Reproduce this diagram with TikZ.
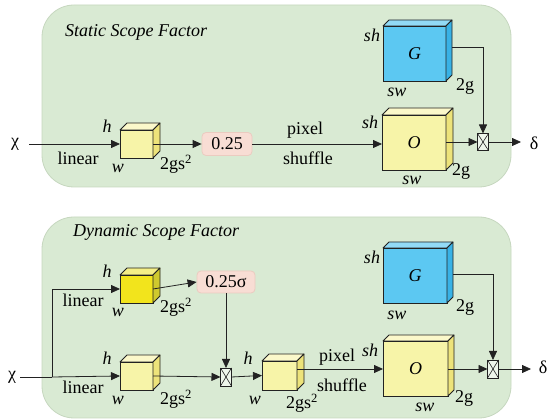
\documentclass[tikz,border=0pt]{standalone}
\usepackage{fontspec}
\setmainfont{Liberation Serif}
\newfontfamily\figfont{Liberation Serif}
\usetikzlibrary{arrows.meta,calc}
\definecolor{panelfill}{HTML}{D9EAD3}
\definecolor{paneldraw}{HTML}{C6D7BF}
\definecolor{lyF}{HTML}{F7F4A8}
\definecolor{lyT}{HTML}{FBF8CA}
\definecolor{lyS}{HTML}{EDE37A}
\definecolor{yyF}{HTML}{F2E41C}
\definecolor{yyT}{HTML}{F4EE86}
\definecolor{yyS}{HTML}{CFC92E}
\definecolor{bbF}{HTML}{5CC8F2}
\definecolor{bbT}{HTML}{92DAF6}
\definecolor{bbS}{HTML}{38B2E6}
\definecolor{boxF}{HTML}{F8DDD4}
\definecolor{boxD}{HTML}{EBCBC0}
\definecolor{ink}{HTML}{222222}
\tikzset{
  panel/.style={fill=panelfill,draw=paneldraw,line width=0.8pt,rounded corners=32pt},
  cubeface/.style={draw=ink,line width=0.8pt,inner sep=0pt,outer sep=0pt,font=\figfont\fontsize{18}{20}\selectfont\itshape},
  cubeedge/.style={draw=ink,line width=0.8pt,line join=round},
  conn/.style={draw=ink,line width=0.8pt},
  arr/.style={conn,-{Triangle[length=9pt,width=8pt]}},
  lab/.style={inner sep=0pt},
  ilab/.style={inner sep=0pt,font=\figfont\fontsize{18}{20}\selectfont\itshape},
  scal/.style={fill=boxF,draw=boxD,line width=0.8pt,rounded corners=4pt,inner sep=0pt},
  mult/.style={draw=ink,line width=0.8pt,fill=white!55!panelfill,minimum width=11pt,minimum height=17pt,inner sep=0pt,outer sep=0pt,
    path picture={\draw[ink,line width=0.6pt] (path picture bounding box.north west) -- (path picture bounding box.south east)
      (path picture bounding box.south west) -- (path picture bounding box.north east);}},
}
\newcommand{\mkcube}[8]{%
  \node[cubeface,fill=#6F,minimum width=#4pt,minimum height=#5pt,anchor=north west] (#1) at (#2,#3) {#8};
  \filldraw[cubeedge,fill=#6T] (#1.north west) -- ++(#7,-#7) -- ++(#4,0) -- (#1.north east) -- cycle;
  \filldraw[cubeedge,fill=#6S] (#1.north east) -- ++(#7,-#7) -- ++(0,#5) -- (#1.south east) -- cycle;
}
\begin{document}
\begin{tikzpicture}[x=1pt,y=-1pt,font=\figfont\fontsize{18}{20}\selectfont]
\useasboundingbox (0,0) rectangle (555,419);
% panels
\path[panel] (42,5) rectangle (511,187);
\path[panel] (42,217) rectangle (511,418);

% ---------- top panel ----------
\node[ilab,anchor=west] (t1) at (65,32) {Static Scope Factor};
\node[lab] (chi1) at (15,144) {χ};
\mkcube{c1}{120}{130}{33}{28}{ly}{7}{}
\node[lab] (lin1) at (78,158) {linear};
\node[ilab] (h1) at (107,126) {h};
\node[ilab] (w1) at (118,168) {w};
\node[lab] (d1) at (176,164) {2gs\textsuperscript{2}};
\node[scal,minimum width=50pt,minimum height=23pt] (p1) at (227,144) {0.25};
\node[lab] (px1) at (305,130) {pixel};
\node[lab] (sf1) at (308,158) {shuffle};
\mkcube{O1}{382}{115}{64}{55}{ly}{7}{O}
\node[ilab] (sh1) at (370,122) {sh};
\node[ilab] (sw1) at (412,180) {sw};
\node[lab] (g1) at (461,171) {2g};
\mkcube{G1}{383}{26}{63}{55}{bb}{6}{G}
\node[ilab] (sh2) at (372,35) {sh};
\node[ilab] (sw2) at (397,92) {sw};
\node[lab] (g2) at (465,86) {2g};
\node[mult] (m1) at (483,142) {};
\node[lab] (del1) at (534,143) {δ};
\coordinate (e1) at (521,142);
\draw[arr] (chi1.east) ++(10,0) -- (c1.west);
\draw[arr] (c1.east) -- (p1.west);
\draw[arr] (p1.east) -- (p1.east -| O1.west);
\draw[arr] (O1.east |- m1.west) -- (m1.west);
\draw[arr] ($(G1.east)+(6,-6)$) -| (m1.north);
\draw[arr] (m1.east) -- (e1);

% ---------- bottom panel ----------
\node[ilab,anchor=west] (t2) at (73,232) {Dynamic Scope Factor};
\node[lab] (chi2) at (12,377) {χ};
\coordinate (br) at (52,377);
\mkcube{c2}{120}{275}{33}{28}{yy}{7}{}
\node[ilab] (h2) at (107,271) {h};
\node[ilab] (w2) at (118,312) {w};
\node[lab] (d2) at (176,307) {2gs\textsuperscript{2}};
\node[lab] (lin2) at (83,300) {linear};
\node[scal,minimum width=58pt,minimum height=22pt] (p2) at (226,282) {0.25σ};
\mkcube{c3}{120}{362}{33}{28}{ly}{7}{}
\node[ilab] (h3) at (107,358) {h};
\node[ilab] (w3) at (118,400) {w};
\node[lab] (d3) at (176,399) {2gs\textsuperscript{2}};
\node[lab] (lin3) at (83,387) {linear};
\node[mult,minimum height=18pt] (m2) at (226,377) {};
\mkcube{c4}{262}{361}{35}{29}{ly}{7}{}
\node[ilab] (h4) at (248,358) {h};
\node[ilab] (w4) at (255,400) {w};
\node[lab] (d4) at (302,403) {2gs\textsuperscript{2}};
\mkcube{O2}{383}{341}{65}{55}{ly}{6}{O}
\node[lab] (px2) at (337,357) {pixel};
\node[lab] (sf2) at (342,385) {shuffle};
\node[ilab] (sh3) at (370,350) {sh};
\node[ilab] (sw3) at (425,407) {sw};
\node[lab] (g3) at (464,398) {2g};
\mkcube{G2}{383}{248}{64}{55}{bb}{6}{G}
\node[ilab] (sh4) at (372,257) {sh};
\node[ilab] (sw4) at (397,315) {sw};
\node[lab] (g4) at (465,307) {2g};
\node[mult,minimum height=18pt] (m3) at (493,369) {};
\node[lab] (del2) at (543,367) {δ};
\coordinate (e2) at (531,369);
\draw[conn] (chi2.east) ++(4,0) -- (br);
\draw[arr] (br) -- (c3.west);
\draw[arr] (br) |- (c2.west);
\draw[arr] (c2.east) -- (p2.west);
\draw[arr] (p2.south) -- (m2.north);
\draw[arr] (c3.east) -- (m2.west);
\draw[arr] (m2.east) -- (c4.west);
\draw[arr] (m3.west -| c4.east) -- (m3.west -| O2.west);
\draw[arr] (O2.east |- m3.west) -- (m3.west);
\draw[arr] ($(G2.east)+(6,-1)$) -| (m3.north);
\draw[arr] (m3.east) -- (e2);
\end{tikzpicture}
\end{document}
